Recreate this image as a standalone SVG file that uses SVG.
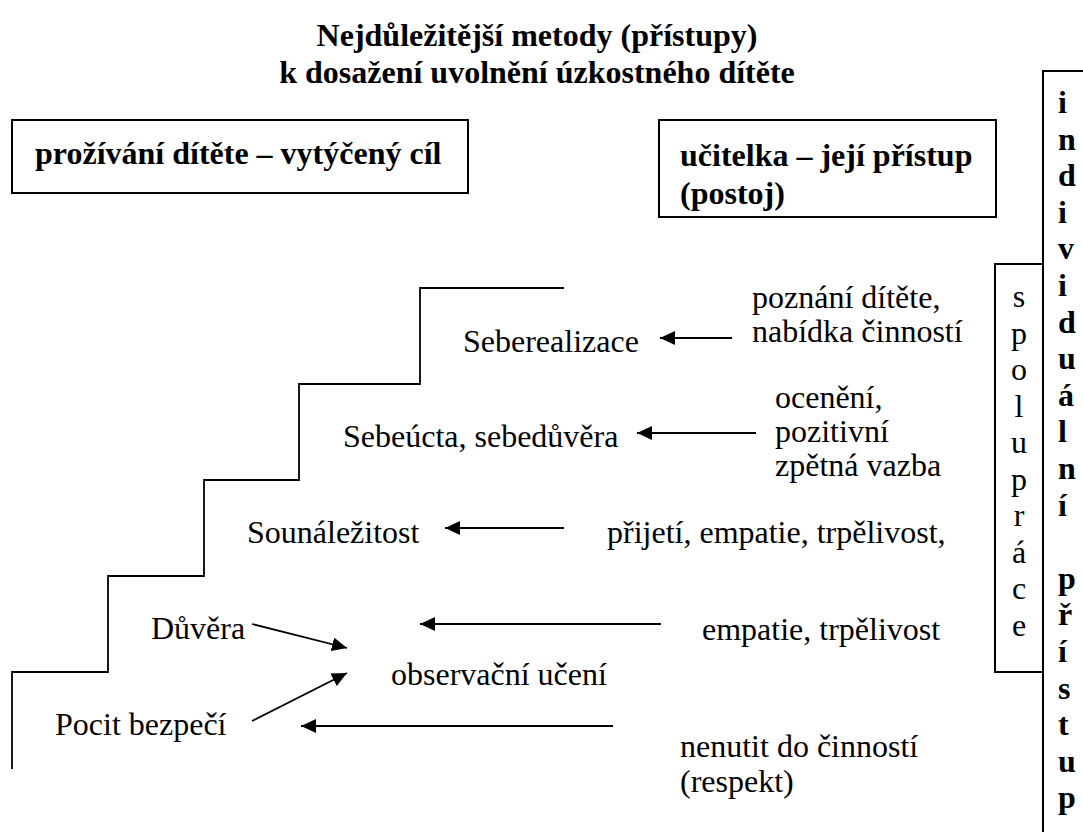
<svg xmlns="http://www.w3.org/2000/svg" width="1083" height="832" viewBox="0 0 1083 832">
  <style>
    .t { font-family: "Liberation Serif", "Times New Roman", serif; font-size: 32px; fill: #000; }
    .b { font-weight: bold; }
    .box { fill: none; stroke: #000; stroke-width: 2; }
    .ln { fill: none; stroke: #000; stroke-width: 1.8; }
    .arr { fill: none; stroke: #000; stroke-width: 1.8; marker-end: url(#ah); }
  </style>
  <defs>
    <marker id="ah" markerUnits="userSpaceOnUse" markerWidth="16" markerHeight="14" refX="15" refY="7" orient="auto">
      <path d="M0,0 L15,7 L0,14 z" fill="#000"/>
    </marker>
  </defs>
  <rect width="1083" height="832" fill="#fff"/>

  <!-- title -->
  <g id="title">
    <text class="t b" x="537" y="46" text-anchor="middle">Nejdůležitější metody (přístupy)</text>
    <text class="t b" x="537" y="83" text-anchor="middle">k dosažení uvolnění úzkostného dítěte</text>
  </g>

  <!-- column headers -->
  <g id="hdr-child">
    <rect class="box" x="12" y="120" width="456" height="73"/>
    <text class="t b" x="35" y="164">prožívání dítěte – vytýčený cíl</text>
  </g>
  <g id="hdr-teacher">
    <rect class="box" x="659" y="120" width="337" height="97"/>
    <text class="t b" x="680" y="166">učitelka – její přístup</text>
    <text class="t b" x="680" y="204">(postoj)</text>
  </g>

  <!-- vertical side boxes -->
  <g id="individual">
    <rect class="box" x="1043" y="71" width="100" height="800"/>
    <g class="t b">
      <text x="1058" y="113">i</text>
      <text x="1058" y="149.6">n</text>
      <text x="1058" y="186.2">d</text>
      <text x="1058" y="222.8">i</text>
      <text x="1058" y="259.4">v</text>
      <text x="1058" y="296">i</text>
      <text x="1058" y="332.6">d</text>
      <text x="1058" y="369.2">u</text>
      <text x="1058" y="405.8">á</text>
      <text x="1058" y="442.4">l</text>
      <text x="1058" y="479">n</text>
      <text x="1058" y="515.6">í</text>
      <text x="1058" y="588.8">p</text>
      <text x="1058" y="625.4">ř</text>
      <text x="1058" y="662">í</text>
      <text x="1058" y="698.6">s</text>
      <text x="1058" y="735.2">t</text>
      <text x="1058" y="771.8">u</text>
      <text x="1058" y="808.4">p</text>
    </g>
  </g>
  <g id="cooperation">
    <path class="box" d="M1043,264 H995 V672 H1043"/>
    <g class="t" text-anchor="middle">
      <text x="1019" y="307">s</text>
      <text x="1019" y="343.5">p</text>
      <text x="1019" y="380">o</text>
      <text x="1019" y="416.5">l</text>
      <text x="1019" y="453">u</text>
      <text x="1019" y="489.5">p</text>
      <text x="1019" y="526">r</text>
      <text x="1019" y="562.5">á</text>
      <text x="1019" y="599">c</text>
      <text x="1019" y="635.5">e</text>
    </g>
  </g>

  <!-- staircase -->
  <g id="stairs">
    <path class="ln" d="M564,288 H420 V384 H299 V480 H204 V576 H108 V672 H12 V769"/>
  </g>

  <!-- needs on the steps -->
  <g id="n-selfreal"><text class="t" x="463" y="352">Seberealizace</text></g>
  <g id="n-esteem"><text class="t" x="343" y="447">Sebeúcta, sebedůvěra</text></g>
  <g id="n-belong"><text class="t" x="247" y="543">Sounáležitost</text></g>
  <g id="n-trust"><text class="t" x="151" y="639">Důvěra</text></g>
  <g id="n-observe"><text class="t" x="391" y="685">observační učení</text></g>
  <g id="n-safety"><text class="t" x="55" y="735">Pocit bezpečí</text></g>

  <!-- teacher approaches -->
  <g id="a-know">
    <text class="t" x="752" y="308">poznání dítěte,</text>
    <text class="t" x="752" y="342">nabídka činností</text>
  </g>
  <g id="a-praise">
    <text class="t" x="775" y="408">ocenění,</text>
    <text class="t" x="775" y="442">pozitivní</text>
    <text class="t" x="775" y="476">zpětná vazba</text>
  </g>
  <g id="a-accept"><text class="t" x="607" y="543">přijetí, empatie, trpělivost,</text></g>
  <g id="a-empathy"><text class="t" x="702" y="640">empatie, trpělivost</text></g>
  <g id="a-respect">
    <text class="t" x="680" y="757">nenutit do činností</text>
    <text class="t" x="680" y="792">(respekt)</text>
  </g>

  <!-- connectors -->
  <g id="connectors">
    <line class="arr" x1="732" y1="338" x2="660" y2="338"/>
    <line class="arr" x1="756" y1="433" x2="637" y2="433"/>
    <line class="arr" x1="564" y1="528" x2="445" y2="528"/>
    <line class="arr" x1="661" y1="624" x2="420" y2="624"/>
    <line class="arr" x1="613" y1="726" x2="301" y2="726"/>
    <line class="arr" x1="252" y1="624" x2="347" y2="648"/>
    <line class="arr" x1="252" y1="721" x2="347" y2="673"/>
  </g>
</svg>
